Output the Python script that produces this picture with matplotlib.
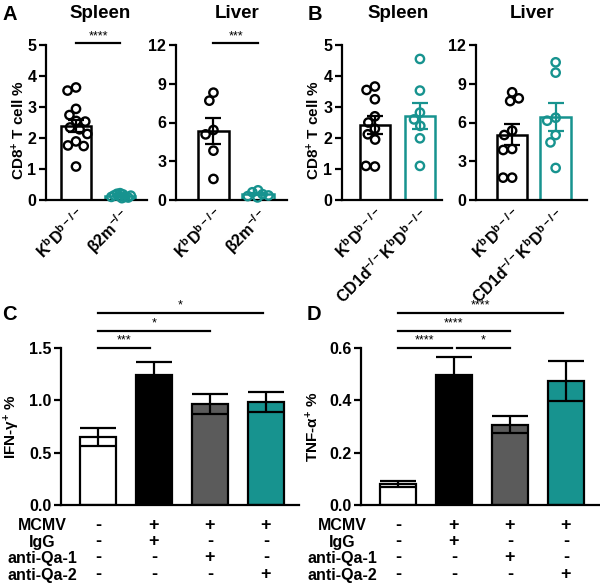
import numpy as np
import matplotlib
matplotlib.use('Agg')
import matplotlib.pyplot as plt
from matplotlib.transforms import blended_transform_factory

plt.rcParams['font.family'] = ['Liberation Sans', 'DejaVu Sans']
plt.rcParams['font.weight'] = 'bold'
plt.rcParams['axes.labelweight'] = 'bold'
plt.rcParams['mathtext.fontset'] = 'custom'
plt.rcParams['mathtext.rm'] = 'Liberation Sans:bold'
plt.rcParams['mathtext.bf'] = 'Liberation Sans:bold'
plt.rcParams['mathtext.it'] = 'Liberation Sans:bold:italic'
plt.rcParams['mathtext.default'] = 'rm'

TEAL = '#17938f'
GRAY = '#5b5b5b'

# ---------------- data ----------------
kbdb_label = r'K$^{b}$D$^{b-/-}$'
b2m_label = r'β2m$^{-/-}$'
cd1d_label = r'CD1d$^{-/-}$K$^{b}$D$^{b-/-}$'

a_spleen_kbdb = [3.63, 3.53, 2.94, 2.74, 2.55, 2.53, 2.34, 2.28, 2.13, 1.89, 1.76, 1.74, 1.08]
a_spleen_b2m = [0.22, 0.2, 0.18, 0.15, 0.12, 0.1, 0.08, 0.06, 0.1, 0.14]
a_liver_kbdb = [8.31, 7.69, 5.42, 5.08, 3.82, 1.63]
a_liver_b2m = [0.75, 0.6, 0.45, 0.3, 0.2, 0.35]

b_spleen_kbdb = [3.66, 3.55, 3.25, 2.7, 2.5, 2.3, 2.12, 1.95, 1.08, 1.1]
b_spleen_cd1d = [4.55, 3.53, 2.82, 2.6, 2.39, 1.99, 1.10]
b_liver_kbdb = [8.34, 7.87, 7.66, 5.37, 5.03, 3.95, 3.87, 1.73, 1.73]
b_liver_cd1d = [10.66, 9.86, 6.37, 6.14, 5.03, 4.46, 2.48]

cd_rows = ['MCMV', 'IgG', 'anti-Qa-1', 'anti-Qa-2']
cd_signs = [['-', '+', '+', '+'],
            ['-', '+', '-', '-'],
            ['-', '-', '+', '-'],
            ['-', '-', '-', '+']]
c_means = [0.65, 1.245, 0.965, 0.987]
c_sems = [0.085, 0.12, 0.10, 0.097]
d_means = [0.080, 0.497, 0.307, 0.473]
d_sems = [0.012, 0.068, 0.033, 0.077]
c_sig = [(0, 0.93, '***'), (0, 2, '*'), (0, 2.95, '*')]
d_sig = [(0, 0.96, '****'), (1.05, 2, '*'), (0, 2, '****'), (0, 2.95, '****')]

# ---------------- layout ----------------
W, H = 600, 585
fig = plt.figure(figsize=(W / 100, H / 100), dpi=100)


def add_ax(x0, x1, ytop, ybot):
    return fig.add_axes([x0 / W, (H - ybot) / H, (x1 - x0) / W, (ybot - ytop) / H])


def style(ax, ymax, yticks, fmt=None):
    for s in ['top', 'right']:
        ax.spines[s].set_visible(False)
    ax.spines['left'].set_linewidth(1.6)
    ax.spines['bottom'].set_linewidth(1.6)
    ax.spines['left'].set_bounds(0, ymax)
    ax.set_ylim(0, ymax)
    ax.set_yticks(yticks)
    if fmt:
        ax.set_yticklabels([fmt.format(v) for v in yticks])
    ax.tick_params(axis='y', width=1.6, length=5, labelsize=11.5, pad=2)
    ax.tick_params(axis='x', length=0)


def swarm(ax, x0, vals, d_px):
    vals = np.asarray(vals, float)
    pts = ax.transData.transform(np.column_stack([np.full(len(vals), x0), vals]))
    ys = pts[:, 1]
    xc = pts[0, 0]
    placed = []
    xs = np.zeros(len(vals))
    for i in range(len(vals)):
        y = ys[i]
        iv = []
        for (px, py) in placed:
            dy = abs(py - y)
            if dy < d_px:
                dx = np.sqrt(d_px ** 2 - dy ** 2)
                iv.append((px - dx, px + dx))
        cands = [xc] + [a for a, b in iv] + [b for a, b in iv]
        cands.sort(key=lambda c: abs(c - xc))
        chosen = xc
        for c in cands:
            if all(not (a + 1e-6 < c < b - 1e-6) for a, b in iv):
                chosen = c
                break
        xs[i] = chosen
        placed.append((chosen, y))
    return ax.transData.inverted().transform(np.column_stack([xs, ys]))[:, 0]


def dot_panel(ax, groups, colors, labels, xlim, ymax, yticks, spacing, width, sig=None):
    ax.set_xlim(*xlim)
    style(ax, ymax, yticks)
    for i, (vals, col, sp) in enumerate(zip(groups, colors, spacing)):
        v = np.asarray(vals)
        m = v.mean()
        se = v.std(ddof=1) / np.sqrt(len(v))
        ax.bar(i, m, width=width, color='white', edgecolor=col, linewidth=1.8, zorder=1)
        xs = swarm(ax, i, v, sp)
        ax.scatter(xs, v, s=36, facecolors='none', edgecolors=col, linewidths=1.7,
                   zorder=3, clip_on=False)
        ax.errorbar(i, m, yerr=se, fmt='none', ecolor=col, elinewidth=1.6, capsize=6,
                    capthick=1.6, zorder=4)
    ax.set_xticks(range(len(groups)))
    ax.set_xticklabels(labels, rotation=45, ha='right', rotation_mode='anchor', fontsize=11.5)
    ax.tick_params(axis='x', pad=4)
    if sig:
        y = ymax * 1.012
        ax.plot([0, 1], [y, y], color='black', lw=1.6, clip_on=False)
        ax.text(0.5, y + ymax * 0.005, sig, ha='center', va='bottom', fontsize=9,
                fontweight='normal', clip_on=False)


# Panel A
axA1 = add_ax(46, 147, 45, 200)
dot_panel(axA1, [a_spleen_kbdb, a_spleen_b2m], ['black', TEAL], [kbdb_label, b2m_label],
          (-0.68, 1.61), 5, [0, 1, 2, 3, 4, 5], [9, 3.2], 0.68, sig='****')
axA1.set_ylabel(r'CD8$^{+}$ T cell %', fontsize=11)
axA1.yaxis.set_label_coords(-0.19, 0.45)

axA2 = add_ax(176, 287, 45, 200)
dot_panel(axA2, [a_liver_kbdb, a_liver_b2m], ['black', TEAL], [kbdb_label, b2m_label],
          (-0.84, 1.65), 12, [0, 3, 6, 9, 12], [9, 6], 0.7, sig='***')

# Panel B
axB1 = add_ax(342, 442, 45, 200)
dot_panel(axB1, [b_spleen_kbdb, b_spleen_cd1d], ['black', TEAL], [kbdb_label, cd1d_label],
          (-0.73, 1.49), 5, [0, 1, 2, 3, 4, 5], [9, 9], 0.68)
axB1.set_ylabel(r'CD8$^{+}$ T cell %', fontsize=11)
axB1.yaxis.set_label_coords(-0.2, 0.45)

axB2 = add_ax(476, 587, 45, 200)
dot_panel(axB2, [b_liver_kbdb, b_liver_cd1d], ['black', TEAL], [kbdb_label, cd1d_label],
          (-0.83, 1.72), 12, [0, 3, 6, 9, 12], [9, 9], 0.7)


# Panels C, D
def bar_panel(ax, means, sems, ymax, yticks, ylabel, sigs, label_x):
    ax.set_xlim(-0.66, 3.59)
    style(ax, ymax, yticks, fmt='{:.1f}')
    colors = ['white', 'black', GRAY, TEAL]
    x = np.arange(len(means))
    ax.bar(x, means, width=0.64, color=colors, edgecolor='black', linewidth=1.6, zorder=1)
    ax.errorbar(x, means, yerr=sems, fmt='none', ecolor='black', elinewidth=1.6,
                capsize=13, capthick=1.6, zorder=3)
    ax.set_xticks([])
    ax.set_ylabel(ylabel, fontsize=11)
    ax.yaxis.set_label_coords(-0.165, 0.5)
    step = ymax / 157.0
    for (x0, x1, s) in sigs:
        span = round(x1)
        lvl = {1: 0, 2: 1, 3: 2}[span] if x0 == 0 else 0
        y = ymax + lvl * 17.5 * step
        ax.plot([x0, x1], [y, y], color='black', lw=1.6, clip_on=False)
        ax.text((x0 + x1) / 2, y + 1.5 * step, s, ha='center', va='bottom', fontsize=9,
                fontweight='normal', clip_on=False)
    # condition table: one multi-line text per column
    tr = blended_transform_factory(ax.transData, fig.transFigure)
    top_y = (H - 518) / H
    fig.text(label_x / W, top_y, '\n'.join(cd_rows), ha='center', va='top',
             multialignment='center', fontsize=11.5, linespacing=1.13)
    for j in range(len(means)):
        col = '\n'.join(row[j] for row in cd_signs)
        ax.text(j, top_y + 1.0 / H, col, transform=tr, ha='center', va='top',
                fontsize=13, linespacing=0.94)


axC = add_ax(61, 299, 348, 505)
bar_panel(axC, c_means, c_sems, 1.5, [0, 0.5, 1.0, 1.5], 'IFN-γ$^{+}$ %', c_sig, 42.5)
axD = add_ax(361, 599, 348, 505)
bar_panel(axD, d_means, d_sems, 0.6, [0, 0.2, 0.4, 0.6], 'TNF-α$^{+}$ %', d_sig, 342.5)

# Titles and panel letters
for x, t in [(100, 'Spleen'), (237, 'Liver'), (398, 'Spleen'), (532, 'Liver')]:
    fig.text(x / W, (H - 13) / H, t, ha='center', va='center', fontsize=13.5)
for x, y, t in [(10, 15, 'A'), (315, 15, 'B'), (9, 315, 'C'), (314, 315, 'D')]:
    fig.text(x / W, (H - y) / H, t, ha='center', va='center', fontsize=14.5)

fig.savefig('out.png', dpi=100)
